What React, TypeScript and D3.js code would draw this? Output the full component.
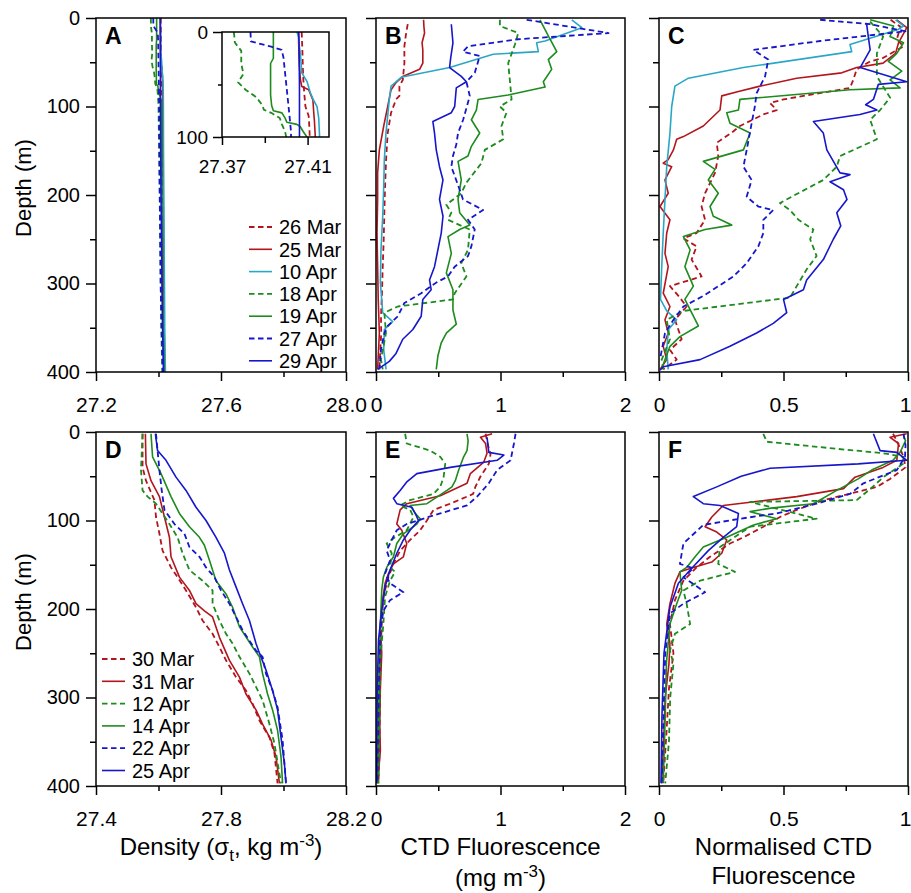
import { useEffect, useRef } from 'react';
import * as d3 from 'd3';

type Pt = [number, number]; // [depth (m), value]

// ---- Panel A: density, first set of casts (also drawn in the 0-100 m inset)
const aMar26: Pt[] = [[0, 27.4072], [3, 27.4073], [20, 27.4076], [35, 27.4078], [49, 27.4081], [60, 27.4085], [71, 27.409], [80, 27.4105], [90, 27.4108], [100, 27.411], [150, 27.411], [200, 27.412], [250, 27.413], [300, 27.414], [350, 27.416], [400, 27.418]];
const aMar25: Pt[] = [[0, 27.4058], [10, 27.4058], [33, 27.4062], [45, 27.4066], [52, 27.4073], [55, 27.4105], [60, 27.4115], [65, 27.4125], [75, 27.4128], [85, 27.4132], [100, 27.4136], [150, 27.414], [200, 27.415], [250, 27.416], [300, 27.417], [350, 27.418], [400, 27.42]];
const aApr10: Pt[] = [[0, 27.405], [5, 27.4058], [15, 27.4062], [20, 27.4066], [39, 27.4073], [47, 27.4097], [58, 27.4113], [65, 27.4128], [71, 27.4144], [82, 27.4152], [100, 27.4156], [150, 27.416], [200, 27.417], [250, 27.418], [300, 27.419], [350, 27.42], [400, 27.422]];
const aApr18: Pt[] = [[0, 27.3755], [5, 27.3758], [10, 27.376], [18, 27.379], [30, 27.379], [40, 27.38], [48, 27.3775], [55, 27.381], [62, 27.386], [70, 27.389], [74, 27.3895], [77, 27.393], [82, 27.397], [88, 27.398], [95, 27.3995], [100, 27.4], [150, 27.402], [200, 27.404], [250, 27.405], [300, 27.407], [350, 27.409], [400, 27.412]];
const aApr19: Pt[] = [[0, 27.394], [25, 27.394], [30, 27.3927], [60, 27.3927], [70, 27.3932], [75, 27.394], [77, 27.398], [82, 27.3995], [86, 27.4003], [88, 27.405], [90, 27.4065], [95, 27.408], [100, 27.4097], [150, 27.41], [200, 27.411], [250, 27.412], [300, 27.413], [350, 27.415], [400, 27.417]];
const aApr27: Pt[] = [[0, 27.3833], [9, 27.3835], [14, 27.393], [17, 27.3979], [24, 27.3987], [55, 27.4003], [79, 27.4015], [96, 27.4023], [100, 27.4022], [150, 27.403], [200, 27.404], [250, 27.406], [300, 27.407], [350, 27.41], [400, 27.414]];
const aApr29: Pt[] = [[0, 27.4058], [10, 27.406], [50, 27.4062], [100, 27.4062], [150, 27.407], [200, 27.408], [250, 27.41], [300, 27.411], [350, 27.413], [400, 27.416]];

// ---- Panel B: CTD fluorescence (mg m-3), first set
const bMar26: Pt[] = [[7, 0.255], [17, 0.242], [32, 0.228], [51, 0.228], [70, 0.215], [77, 0.188], [88, 0.188], [92, 0.161], [107, 0.121], [130, 0.094], [160, 0.081], [190, 0.073], [220, 0.067], [250, 0.062], [281, 0.054], [311, 0.048], [337, 0.04], [356, 0.042], [375, 0.035], [397, 0.027]];
const bMar25: Pt[] = [[2, 0.382], [10, 0.385], [17, 0.39], [28, 0.37], [36, 0.376], [51, 0.376], [58, 0.35], [66, 0.215], [73, 0.161], [81, 0.121], [100, 0.094], [122, 0.062], [149, 0.027], [175, 0.013], [205, 0.013], [243, 0.008], [281, 0.013], [318, 0.018], [356, 0.027], [397, 0.013]];
const bApr10: Pt[] = [[2, 1.573], [11, 1.653], [26, 1.358], [28, 1.29], [38, 1.304], [41, 0.941], [56, 0.591], [67, 0.202], [77, 0.121], [92, 0.107], [130, 0.08], [160, 0.067], [190, 0.062], [224, 0.054], [262, 0.04], [299, 0.035], [333, 0.054], [343, 0.134], [352, 0.067], [375, 0.062], [397, 0.081]];
const bApr18: Pt[] = [[2, 0.995], [9, 0.995], [17, 1.142], [30, 1.116], [51, 1.062], [70, 1.075], [92, 1.089], [100, 0.995], [107, 1.048], [122, 1.008], [137, 1.022], [149, 0.874], [164, 0.847], [186, 0.726], [198, 0.685], [211, 0.565], [220, 0.605], [228, 0.578], [239, 0.753], [262, 0.739], [277, 0.685], [292, 0.726], [311, 0.632], [318, 0.618], [326, 0.175], [333, 0.067], [356, 0.08], [386, 0.04], [397, 0.054]];
const bApr19: Pt[] = [[2, 1.317], [13, 1.358], [24, 1.398], [38, 1.452], [47, 1.384], [58, 1.411], [72, 1.344], [78, 1.358], [87, 1.062], [92, 0.82], [104, 0.806], [115, 0.766], [130, 0.833], [145, 0.766], [156, 0.739], [162, 0.659], [183, 0.685], [205, 0.659], [220, 0.672], [234, 0.753], [239, 0.672], [247, 0.578], [266, 0.605], [288, 0.565], [307, 0.618], [330, 0.618], [346, 0.645], [356, 0.565], [367, 0.524], [382, 0.497], [397, 0.484]];
const bApr27: Pt[] = [[2, 1.21], [17, 1.868], [24, 1.142], [32, 0.739], [38, 0.699], [43, 0.833], [62, 0.793], [72, 0.726], [88, 0.753], [100, 0.73], [115, 0.7], [130, 0.659], [143, 0.645], [156, 0.618], [168, 0.605], [194, 0.672], [205, 0.699], [217, 0.86], [228, 0.739], [239, 0.793], [258, 0.766], [269, 0.739], [281, 0.632], [292, 0.578], [299, 0.484], [311, 0.363], [322, 0.228], [337, 0.175], [348, 0.094], [356, 0.067], [375, 0.04], [397, 0.027]];
const bApr29: Pt[] = [[7, 0.605], [28, 0.618], [45, 0.6], [56, 0.591], [66, 0.685], [72, 0.726], [79, 0.645], [100, 0.632], [107, 0.605], [117, 0.457], [130, 0.47], [149, 0.484], [168, 0.51], [183, 0.538], [205, 0.51], [224, 0.538], [243, 0.524], [262, 0.497], [281, 0.47], [296, 0.43], [307, 0.443], [318, 0.376], [337, 0.363], [352, 0.296], [363, 0.215], [379, 0.161], [388, 0.107], [397, 0.013]];

// ---- Panel C: normalised fluorescence, first set
const cMar26: Pt[] = [[2, 0.93], [10, 0.97], [24, 0.955], [32, 0.982], [45, 0.901], [49, 0.848], [58, 0.794], [70, 0.78], [79, 0.767], [92, 0.5], [96, 0.446], [104, 0.473], [109, 0.419], [122, 0.325], [128, 0.299], [141, 0.232], [156, 0.238], [175, 0.225], [198, 0.185], [213, 0.171], [228, 0.185], [243, 0.151], [249, 0.098], [258, 0.151], [273, 0.131], [292, 0.171], [303, 0.044], [314, 0.078], [326, 0.111], [341, 0.064], [363, 0.091], [375, 0.044], [386, 0.071], [397, 0.017]];
const cMar25: Pt[] = [[2, 0.955], [11, 0.995], [28, 0.962], [40, 0.95], [51, 0.9], [56, 0.794], [62, 0.734], [68, 0.553], [77, 0.406], [83, 0.319], [88, 0.252], [104, 0.245], [122, 0.178], [134, 0.098], [137, 0.071], [149, 0.058], [160, 0.037], [164, 0.017], [168, 0.051], [183, 0.024], [198, 0.037], [213, 0.004], [228, 0.044], [243, 0.031], [266, 0.024], [281, 0.037], [311, 0.017], [326, 0.044], [341, 0.024], [356, 0.037], [371, 0.017], [386, 0.031], [397, 0.004]];
const cApr10: Pt[] = [[2, 0.95], [9, 0.982], [13, 0.96], [30, 0.767], [38, 0.774], [56, 0.339], [68, 0.118], [77, 0.064], [100, 0.051], [130, 0.044], [168, 0.031], [205, 0.024], [243, 0.017], [281, 0.011], [318, 0.006], [331, 0.031], [341, 0.071], [352, 0.038], [375, 0.031], [397, 0.037]];
const cApr18: Pt[] = [[4, 0.848], [21, 0.9], [40, 0.875], [66, 0.875], [90, 0.928], [104, 0.888], [115, 0.848], [137, 0.875], [156, 0.727], [168, 0.714], [183, 0.66], [209, 0.486], [217, 0.526], [228, 0.56], [239, 0.62], [250, 0.607], [269, 0.633], [284, 0.593], [303, 0.553], [316, 0.526], [331, 0.098], [341, 0.031], [363, 0.044], [386, 0.011], [397, 0.017]];
const cApr19: Pt[] = [[2, 0.848], [9, 0.942], [21, 0.928], [28, 0.982], [40, 0.955], [49, 0.921], [60, 0.975], [70, 0.928], [79, 0.968], [81, 0.767], [92, 0.325], [104, 0.319], [107, 0.272], [119, 0.285], [130, 0.366], [149, 0.339], [162, 0.178], [171, 0.225], [183, 0.198], [198, 0.238], [213, 0.205], [224, 0.218], [234, 0.292], [239, 0.185], [247, 0.098], [262, 0.125], [281, 0.104], [303, 0.138], [318, 0.104], [333, 0.131], [348, 0.158], [360, 0.084], [371, 0.044], [386, 0.024], [397, 0.011]];
const cApr27: Pt[] = [[2, 0.647], [7, 0.848], [15, 0.99], [26, 0.647], [36, 0.379], [47, 0.439], [66, 0.426], [85, 0.392], [100, 0.385], [119, 0.372], [145, 0.355], [168, 0.339], [183, 0.372], [202, 0.352], [213, 0.399], [217, 0.459], [228, 0.419], [243, 0.419], [258, 0.399], [277, 0.352], [292, 0.299], [314, 0.178], [326, 0.098], [341, 0.058], [356, 0.024], [386, 0.004]];
const cApr29: Pt[] = [[7, 0.834], [20, 0.84], [36, 0.848], [56, 0.808], [72, 0.995], [75, 0.881], [92, 0.861], [98, 0.83], [104, 0.875], [109, 0.807], [117, 0.62], [130, 0.66], [149, 0.674], [175, 0.727], [177, 0.767], [185, 0.687], [194, 0.741], [205, 0.755], [220, 0.714], [235, 0.73], [250, 0.7], [273, 0.66], [296, 0.593], [307, 0.58], [318, 0.5], [333, 0.513], [345, 0.459], [356, 0.392], [371, 0.285], [386, 0.165], [394, 0.017], [398, 0.004]];

// ---- Panel D: density, second set
const dMar30: Pt[] = [[2, 27.549], [40, 27.549], [55, 27.56], [77, 27.587], [96, 27.592], [115, 27.603], [134, 27.613], [153, 27.64], [164, 27.661], [179, 27.688], [198, 27.72], [213, 27.741], [228, 27.773], [243, 27.795], [258, 27.816], [277, 27.848], [292, 27.88], [307, 27.901], [326, 27.923], [345, 27.955], [363, 27.971], [397, 27.981]];
const dMar31: Pt[] = [[2, 27.558], [36, 27.56], [55, 27.576], [73, 27.603], [96, 27.619], [119, 27.635], [141, 27.64], [164, 27.667], [179, 27.699], [194, 27.72], [202, 27.747], [209, 27.773], [232, 27.795], [258, 27.827], [277, 27.859], [296, 27.88], [314, 27.912], [330, 27.933], [348, 27.96], [367, 27.976], [397, 27.987]];
const dApr12: Pt[] = [[2, 27.549], [43, 27.544], [66, 27.549], [73, 27.565], [81, 27.592], [104, 27.635], [119, 27.661], [137, 27.677], [156, 27.699], [168, 27.741], [179, 27.773], [194, 27.773], [213, 27.795], [228, 27.816], [239, 27.837], [254, 27.859], [273, 27.891], [288, 27.912], [303, 27.933], [330, 27.955], [352, 27.971], [397, 27.992]];
const dApr14: Pt[] = [[2, 27.576], [28, 27.581], [47, 27.608], [73, 27.64], [92, 27.667], [107, 27.699], [119, 27.731], [128, 27.747], [145, 27.763], [168, 27.784], [183, 27.816], [198, 27.837], [220, 27.859], [243, 27.901], [254, 27.923], [273, 27.933], [296, 27.949], [314, 27.965], [337, 27.981], [367, 27.992], [397, 27.997]];
const dApr22: Pt[] = [[2, 27.592], [21, 27.597], [43, 27.603], [65, 27.61], [88, 27.619], [104, 27.651], [115, 27.683], [130, 27.699], [141, 27.731], [153, 27.752], [164, 27.779], [179, 27.8], [194, 27.827], [209, 27.848], [224, 27.869], [247, 27.912], [254, 27.933], [273, 27.944], [292, 27.965], [311, 27.981], [348, 27.997], [397, 28.008]];
const dApr25: Pt[] = [[2, 27.59], [21, 27.597], [32, 27.624], [51, 27.656], [66, 27.688], [85, 27.72], [100, 27.752], [119, 27.784], [137, 27.811], [156, 27.827], [175, 27.848], [194, 27.869], [213, 27.891], [239, 27.912], [247, 27.92], [269, 27.944], [292, 27.965], [314, 27.981], [345, 27.992], [375, 28.003], [397, 28.008]];

// ---- Panel E: CTD fluorescence, second set
const eMar30: Pt[] = [[2, 0.88], [15, 0.9], [25, 0.92], [36, 0.906], [50, 0.84], [62, 0.798], [70, 0.78], [81, 0.597], [88, 0.462], [100, 0.409], [111, 0.355], [122, 0.274], [134, 0.194], [149, 0.14], [164, 0.1], [186, 0.059], [217, 0.046], [260, 0.035], [320, 0.03], [360, 0.028], [397, 0.02]];
const eMar31: Pt[] = [[2, 0.933], [6, 0.839], [13, 0.88], [24, 0.892], [34, 0.866], [47, 0.758], [58, 0.731], [72, 0.516], [81, 0.247], [88, 0.194], [104, 0.167], [111, 0.207], [126, 0.247], [141, 0.22], [149, 0.14], [160, 0.1], [171, 0.073], [198, 0.046], [217, 0.035], [250, 0.046], [290, 0.035], [330, 0.03], [360, 0.035], [397, 0.013]];
const eApr12: Pt[] = [[2, 0.234], [13, 0.247], [21, 0.435], [28, 0.516], [36, 0.556], [51, 0.543], [62, 0.516], [70, 0.462], [77, 0.274], [83, 0.194], [88, 0.274], [96, 0.301], [111, 0.247], [119, 0.153], [126, 0.086], [137, 0.126], [153, 0.113], [158, 0.153], [168, 0.113], [186, 0.073], [217, 0.059], [255, 0.035], [300, 0.03], [340, 0.025], [397, 0.02]];
const eApr14: Pt[] = [[2, 0.731], [10, 0.74], [21, 0.731], [28, 0.704], [43, 0.664], [55, 0.637], [62, 0.61], [66, 0.57], [81, 0.409], [83, 0.274], [92, 0.315], [98, 0.355], [104, 0.328], [115, 0.22], [126, 0.167], [141, 0.14], [153, 0.086], [164, 0.059], [179, 0.046], [217, 0.035], [270, 0.025], [330, 0.022], [397, 0.011]];
const eApr22: Pt[] = [[2, 1.121], [13, 1.108], [32, 1.081], [43, 0.973], [58, 0.906], [73, 0.812], [83, 0.731], [92, 0.516], [96, 0.422], [104, 0.247], [111, 0.167], [122, 0.126], [134, 0.086], [145, 0.113], [160, 0.073], [171, 0.113], [181, 0.22], [190, 0.113], [202, 0.059], [224, 0.035], [272, 0.025], [330, 0.018], [397, 0.011]];
const eApr25: Pt[] = [[6, 0.892], [23, 0.906], [26, 1.027], [32, 0.973], [40, 0.597], [47, 0.328], [56, 0.25], [66, 0.194], [75, 0.14], [81, 0.167], [85, 0.288], [92, 0.315], [100, 0.341], [111, 0.274], [122, 0.22], [137, 0.167], [156, 0.113], [175, 0.073], [202, 0.046], [235, 0.02], [290, 0.01], [350, 0.008], [397, 0.005]];

// ---- Panel F: normalised fluorescence, second set
const fMar30: Pt[] = [[2, 0.94], [13, 0.96], [28, 0.982], [40, 0.99], [53, 0.928], [62, 0.875], [66, 0.82], [77, 0.66], [88, 0.553], [96, 0.486], [107, 0.419], [119, 0.339], [126, 0.285], [141, 0.205], [153, 0.151], [168, 0.098], [190, 0.064], [217, 0.044], [250, 0.058], [290, 0.04], [340, 0.03], [397, 0.017]];
const fMar31: Pt[] = [[2, 0.995], [6, 0.928], [13, 0.962], [32, 0.955], [40, 0.9], [51, 0.787], [64, 0.741], [73, 0.553], [80, 0.35], [83, 0.258], [96, 0.212], [107, 0.185], [113, 0.232], [122, 0.272], [137, 0.252], [147, 0.212], [153, 0.138], [158, 0.084], [171, 0.064], [194, 0.044], [217, 0.031], [239, 0.044], [262, 0.04], [300, 0.025], [340, 0.02], [397, 0.011]];
const fApr12: Pt[] = [[2, 0.419], [11, 0.433], [19, 0.714], [24, 0.901], [28, 0.982], [36, 0.98], [51, 0.901], [64, 0.85], [77, 0.794], [79, 0.366], [98, 0.633], [107, 0.366], [130, 0.245], [149, 0.238], [158, 0.305], [168, 0.165], [179, 0.098], [194, 0.111], [217, 0.125], [228, 0.064], [247, 0.044], [262, 0.058], [300, 0.045], [350, 0.04], [397, 0.025]];
const fApr14: Pt[] = [[4, 0.982], [10, 0.99], [23, 0.968], [32, 0.94], [43, 0.854], [53, 0.8], [66, 0.714], [81, 0.62], [86, 0.45], [90, 0.366], [98, 0.473], [105, 0.38], [119, 0.272], [130, 0.178], [141, 0.145], [153, 0.111], [158, 0.084], [179, 0.091], [194, 0.071], [217, 0.044], [260, 0.03], [320, 0.025], [397, 0.017]];
const fApr22: Pt[] = [[2, 0.982], [15, 0.99], [28, 0.988], [43, 0.955], [58, 0.821], [70, 0.767], [81, 0.633], [92, 0.473], [98, 0.325], [105, 0.178], [126, 0.098], [149, 0.084], [154, 0.138], [164, 0.098], [181, 0.185], [194, 0.098], [205, 0.044], [250, 0.025], [320, 0.018], [397, 0.011]];
const fApr25: Pt[] = [[2, 0.861], [21, 0.888], [23, 0.955], [32, 0.995], [36, 0.8], [41, 0.446], [50, 0.33], [62, 0.232], [73, 0.138], [81, 0.178], [83, 0.245], [92, 0.319], [107, 0.312], [119, 0.258], [134, 0.198], [156, 0.125], [171, 0.078], [198, 0.044], [250, 0.02], [320, 0.012], [397, 0.008]];

// ---- ticks & legends
const depthTicks = [0, 100, 200, 300, 400];
const depthMinor = [50, 150, 250, 350];
const aTicks = [27.2, 27.6, 28.0];
const aTickLabels = ['27.2', '27.6', '28.0'];
const aMinor = [27.4, 27.8];
const dTicks = [27.4, 27.8, 28.2];
const dTickLabels = ['27.4', '27.8', '28.2'];
const dMinor = [27.6, 28.0];
const fluoTicks = [0, 1, 2];
const fluoTickLabels = ['0', '1', '2'];
const fluoMinor = [0.5, 1.5];
const normTicks = [0, 0.5, 1];
const normTickLabels = ['0', '0.5', '1'];
const normMinor = [0.25, 0.75];
const insetDepthTicks = [0, 100];
const insetDepthMinor = [50];
const insetTicks = [27.37, 27.41];
const insetTickLabels = ['27.37', '27.41'];
const insetMinor = [27.39];

const legendTop = ['26 Mar', '25 Mar', '10 Apr', '18 Apr', '19 Apr', '27 Apr', '29 Apr'];
const legendBottom = ['30 Mar', '31 Mar', '12 Apr', '14 Apr', '22 Apr', '25 Apr'];

// ---- styles
const RED = '#b3151d';
const CYAN = '#2ba7c6';
const GREEN = '#1d8b1d';
const BLUE = '#1616cc';
type Sty = { color: string; dash: boolean };
const topStyles: Sty[] = [
  { color: RED, dash: true }, { color: RED, dash: false }, { color: CYAN, dash: false },
  { color: GREEN, dash: true }, { color: GREEN, dash: false }, { color: BLUE, dash: true }, { color: BLUE, dash: false },
];
const bottomStyles: Sty[] = [
  { color: RED, dash: true }, { color: RED, dash: false }, { color: GREEN, dash: true },
  { color: GREEN, dash: false }, { color: BLUE, dash: true }, { color: BLUE, dash: false },
];

const FONT = '"Liberation Sans", Arial, Helvetica, sans-serif';
const W = 911;
const H = 893;
const cols = [[96, 346], [376, 625], [659, 908]];
const rows = [[18, 372], [432, 786]];

export default function App() {
  const svgRef = useRef<SVGSVGElement>(null);

  useEffect(() => {
    if (!svgRef.current) return;
    const svg = d3.select(svgRef.current);
    svg.selectAll('*').remove();
    svg.append('rect').attr('width', W).attr('height', H).attr('fill', '#fff');

    const panels = [
      { id: 'A', col: 0, row: 0, domain: [27.2, 28.0], ticks: aTicks, labels: aTickLabels, minor: aMinor, series: [aMar26, aMar25, aApr10, aApr18, aApr19, aApr27, aApr29], styles: topStyles },
      { id: 'B', col: 1, row: 0, domain: [0, 2], ticks: fluoTicks, labels: fluoTickLabels, minor: fluoMinor, series: [bMar26, bMar25, bApr10, bApr18, bApr19, bApr27, bApr29], styles: topStyles },
      { id: 'C', col: 2, row: 0, domain: [0, 1], ticks: normTicks, labels: normTickLabels, minor: normMinor, series: [cMar26, cMar25, cApr10, cApr18, cApr19, cApr27, cApr29], styles: topStyles },
      { id: 'D', col: 0, row: 1, domain: [27.4, 28.2], ticks: dTicks, labels: dTickLabels, minor: dMinor, series: [dMar30, dMar31, dApr12, dApr14, dApr22, dApr25], styles: bottomStyles },
      { id: 'E', col: 1, row: 1, domain: [0, 2], ticks: fluoTicks, labels: fluoTickLabels, minor: fluoMinor, series: [eMar30, eMar31, eApr12, eApr14, eApr22, eApr25], styles: bottomStyles },
      { id: 'F', col: 2, row: 1, domain: [0, 1], ticks: normTicks, labels: normTickLabels, minor: normMinor, series: [fMar30, fMar31, fApr12, fApr14, fApr22, fApr25], styles: bottomStyles },
    ];

    const drawLines = (g: any, series: Pt[][], styles: Sty[], x: any, y: any, clipId: string) => {
      const line = d3.line<Pt>().x(d => x(d[1])).y(d => y(d[0]));
      series.forEach((s, k) => {
        const st = styles[k];
        g.append('path')
          .attr('d', line(s))
          .attr('fill', 'none')
          .attr('stroke', st.color)
          .attr('stroke-width', st.dash ? 1.8 : 1.6)
          .attr('stroke-dasharray', st.dash ? '5.5,3.5' : null)
          .attr('stroke-linejoin', 'round')
          .attr('clip-path', `url(#${clipId})`);
      });
    };

    const styleAxis = (ax: any, size: number) => {
      ax.select('.domain').remove();
      ax.selectAll('line').attr('stroke', '#000').attr('stroke-width', 1.5);
      ax.selectAll('text').attr('font-family', FONT).attr('font-size', size).attr('fill', '#000');
    };

    panels.forEach(p => {
      const [x0, x1] = cols[p.col];
      const [y0, y1] = rows[p.row];
      const x = d3.scaleLinear().domain(p.domain).range([x0, x1]);
      const y = d3.scaleLinear().domain([0, 400]).range([y0, y1]);
      const g = svg.append('g');
      const clipId = 'clip' + p.id;
      svg.append('clipPath').attr('id', clipId)
        .append('rect').attr('x', x0).attr('y', y0).attr('width', x1 - x0).attr('height', y1 - y0);

      drawLines(g, p.series, p.styles, x, y, clipId);

      // x axis: labelled majors + short minors
      const xa = g.append('g').attr('transform', `translate(0,${y1})`)
        .call(d3.axisBottom(x).tickValues(p.ticks).tickSize(9).tickFormat((_d: any, i: number) => p.labels[i]));
      styleAxis(xa, 21);
      xa.selectAll('text').attr('y', 40).attr('dy', null);
      // keep the right-most label of the last column inside the picture
      if (p.col === 2) {
        xa.selectAll('text').filter((_d: any, i: number) => i === p.ticks.length - 1).attr('x', -3);
      }
      const xm = g.append('g').attr('transform', `translate(0,${y1})`)
        .call(d3.axisBottom(x).tickValues(p.minor).tickSize(5).tickFormat(() => ''));
      styleAxis(xm, 21);

      // y axis
      const ya = g.append('g').attr('transform', `translate(${x0},0)`)
        .call(d3.axisLeft(y).tickValues(depthTicks).tickSize(10)
          .tickFormat((d: any) => (p.col === 0 ? String(d) : '')));
      styleAxis(ya, 20);
      ya.selectAll('text').attr('x', -16);
      const ym = g.append('g').attr('transform', `translate(${x0},0)`)
        .call(d3.axisLeft(y).tickValues(depthMinor).tickSize(6).tickFormat(() => ''));
      styleAxis(ym, 20);

      g.append('rect')
        .attr('x', x0).attr('y', y0).attr('width', x1 - x0).attr('height', y1 - y0)
        .attr('fill', 'none').attr('stroke', '#000').attr('stroke-width', 1.5);

      g.append('text')
        .attr('x', x0 + 9).attr('y', y0 + 26)
        .attr('font-family', FONT).attr('font-size', 23).attr('font-weight', 'bold')
        .text(p.id);
    });

    // ---- inset in A (0-100 m)
    {
      const ix = d3.scaleLinear().domain([27.37, 27.42]).range([222, 329]);
      const iy = d3.scaleLinear().domain([0, 100]).range([32, 137]);
      const g = svg.append('g');
      g.append('rect').attr('x', 222).attr('y', 32).attr('width', 107).attr('height', 105).attr('fill', '#fff');
      svg.append('clipPath').attr('id', 'clipInset')
        .append('rect').attr('x', 222).attr('y', 32).attr('width', 107).attr('height', 105);
      drawLines(g, [aMar26, aMar25, aApr10, aApr18, aApr19, aApr27, aApr29], topStyles, ix, iy, 'clipInset');
      const xa = g.append('g').attr('transform', 'translate(0,137)')
        .call(d3.axisBottom(ix).tickValues(insetTicks).tickSize(8).tickFormat((_d: any, i: number) => insetTickLabels[i]));
      styleAxis(xa, 19);
      xa.selectAll('text').attr('y', 36).attr('dy', null);
      const xm = g.append('g').attr('transform', 'translate(0,137)')
        .call(d3.axisBottom(ix).tickValues(insetMinor).tickSize(6).tickFormat(() => ''));
      styleAxis(xm, 19);
      const ya = g.append('g').attr('transform', 'translate(222,0)')
        .call(d3.axisLeft(iy).tickValues(insetDepthTicks).tickSize(9).tickFormat((d: any) => String(d)));
      styleAxis(ya, 19);
      ya.selectAll('text').attr('x', -14);
      const ym = g.append('g').attr('transform', 'translate(222,0)')
        .call(d3.axisLeft(iy).tickValues(insetDepthMinor).tickSize(4).tickFormat(() => ''));
      styleAxis(ym, 19);
      g.append('rect').attr('x', 222).attr('y', 32).attr('width', 107).attr('height', 105)
        .attr('fill', 'none').attr('stroke', '#000').attr('stroke-width', 1.5);
    }

    // ---- legends
    const drawLegend = (labels: string[], styles: Sty[], lx: number, ty: number) => {
      const g = svg.append('g');
      labels.forEach((lab, i) => {
        const yy = ty + i * 22.3;
        g.append('line').attr('x1', lx).attr('x2', lx + 23).attr('y1', yy).attr('y2', yy)
          .attr('stroke', styles[i].color).attr('stroke-width', styles[i].dash ? 1.8 : 1.6)
          .attr('stroke-dasharray', styles[i].dash ? '5.5,3.5' : null);
        g.append('text').attr('x', lx + 30).attr('y', yy).attr('dy', '0.36em')
          .attr('font-family', FONT).attr('font-size', 20).text(lab);
      });
    };
    drawLegend(legendTop, topStyles, 249, 227);
    drawLegend(legendBottom, bottomStyles, 102, 659);

    // ---- axis titles
    rows.forEach(([y0, y1]) => {
      const cy = (y0 + y1) / 2 - 7;
      svg.append('text')
        .attr('transform', `translate(23,${cy}) rotate(-90)`)
        .attr('text-anchor', 'middle').attr('dy', '0.35em')
        .attr('font-family', FONT).attr('font-size', 22).text('Depth (m)');
    });

    const title = (cx: number, yy: number) => svg.append('text')
      .attr('x', cx).attr('y', yy).attr('text-anchor', 'middle')
      .attr('font-family', FONT).attr('font-size', 24);

    const t1 = title((cols[0][0] + cols[0][1]) / 2, 855);
    t1.append('tspan').text('Density (σ');
    t1.append('tspan').attr('dy', 6).attr('font-size', 17).text('t');
    t1.append('tspan').attr('dy', -6).text(', kg m');
    t1.append('tspan').attr('dy', -9).attr('font-size', 17).text('-3');
    t1.append('tspan').attr('dy', 9).text(')');

    title((cols[1][0] + cols[1][1]) / 2, 855).text('CTD Fluorescence');
    const t2 = title((cols[1][0] + cols[1][1]) / 2, 886);
    t2.append('tspan').text('(mg m');
    t2.append('tspan').attr('dy', -9).attr('font-size', 17).text('-3');
    t2.append('tspan').attr('dy', 9).text(')');

    title((cols[2][0] + cols[2][1]) / 2, 855).text('Normalised CTD');
    title((cols[2][0] + cols[2][1]) / 2, 884).text('Fluorescence');
  }, []);

  return (
    <svg
      ref={svgRef}
      width={W}
      height={H}
      style={{ position: 'absolute', left: 0, top: 0, display: 'block' }}
    />
  );
}
